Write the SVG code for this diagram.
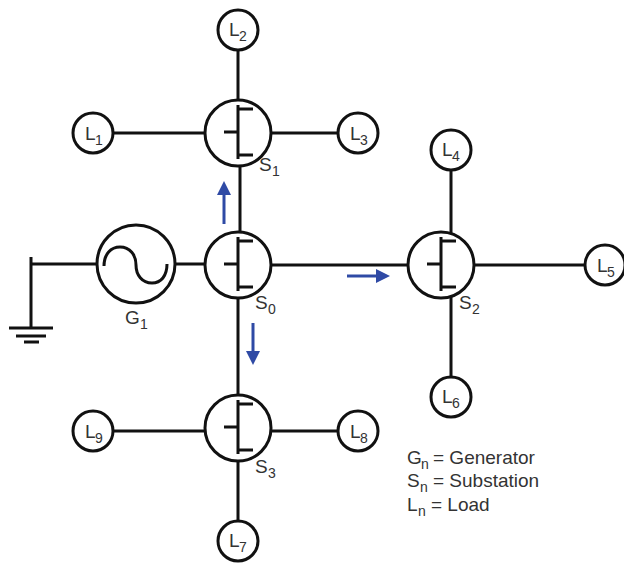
<svg xmlns="http://www.w3.org/2000/svg" xmlns:xlink="http://www.w3.org/1999/xlink" width="624" height="564" viewBox="0 0 624 564">
<style>
.l{stroke:#111;stroke-width:3;fill:none}
.c{stroke:#111;stroke-width:3;fill:#fff}
.a{stroke:#2f4aa5;stroke-width:3;fill:none}
.h{fill:#2f4aa5}
text{font-family:"Liberation Sans",Arial,sans-serif;font-size:19px;fill:#333}
.s{font-size:14px}
</style>
<defs>
<g id="sub">
<circle class="c" r="33"/>
<path class="l" d="M0-28V26M0-24H15M0 22H15M-14-1H0"/>
</g>
<circle id="load" class="c" r="20"/>
</defs>
<rect width="624" height="564" fill="#fff"/>
<g id="connectors">
<path class="l" d="M238 46V100M113 133H205M271 133H338M240 166V232"/>
<path class="l" d="M31 257V328M31 264H97M174 264H205M271 265H408M474 265H586M451 170V235M451 295V378"/>
<path class="l" d="M238 298V395M113 431H205M271 431H338M238 461V521"/>
<path class="l" d="M9 328H53M16 336H46M24 342H39"/>
<path class="a" d="M224 224V192"/><path class="h" d="M224 181L231 195H217Z"/>
<path class="a" d="M253 323V354"/><path class="h" d="M253 365L246 351H260Z"/>
<path class="a" d="M347 276H378"/><path class="h" d="M390 276L376 269V283Z"/>
</g>
<g id="G1"><circle class="c" cx="136" cy="264" r="39"/>
<path class="l" d="M104 266C104 254 111 247 120 247C130 247 136 255 136 265C136 275 142 283 152 283C161 283 167 276 167 264"/>
<text x="125" y="324">G</text><text x="140" y="329" class="s">1</text></g>
<g id="S0"><use xlink:href="#sub" x="238" y="265"/><text x="255" y="309">S</text><text x="268" y="314" class="s">0</text></g>
<g id="S1"><use xlink:href="#sub" x="238" y="133"/><text x="259" y="171">S</text><text x="272" y="176" class="s">1</text></g>
<g id="S2"><use xlink:href="#sub" x="441" y="265"/><text x="459" y="309">S</text><text x="472" y="314" class="s">2</text></g>
<g id="S3"><use xlink:href="#sub" x="238" y="428"/><text x="255" y="473">S</text><text x="268" y="478" class="s">3</text></g>
<g id="L1"><use xlink:href="#load" x="93" y="133"/><text x="85" y="140">L</text><text x="95" y="145" class="s">1</text></g>
<g id="L2"><use xlink:href="#load" x="238" y="30"/><text x="229" y="36">L</text><text x="239" y="41" class="s">2</text></g>
<g id="L3"><use xlink:href="#load" x="358" y="133"/><text x="350" y="140">L</text><text x="360" y="145" class="s">3</text></g>
<g id="L4"><use xlink:href="#load" x="451" y="150"/><text x="442" y="156">L</text><text x="452" y="161" class="s">4</text></g>
<g id="L5"><use xlink:href="#load" x="605" y="265"/><text x="597" y="272">L</text><text x="607" y="277" class="s">5</text></g>
<g id="L6"><use xlink:href="#load" x="451" y="397"/><text x="442" y="403">L</text><text x="452" y="408" class="s">6</text></g>
<g id="L7"><use xlink:href="#load" x="238" y="541"/><text x="229" y="547">L</text><text x="239" y="552" class="s">7</text></g>
<g id="L8"><use xlink:href="#load" x="358" y="431"/><text x="350" y="438">L</text><text x="360" y="443" class="s">8</text></g>
<g id="L9"><use xlink:href="#load" x="93" y="431"/><text x="85" y="438">L</text><text x="95" y="443" class="s">9</text></g>
<g id="legend">
<text x="407" y="464">G</text><text x="421" y="469" class="s">n</text><text x="433" y="464">= Generator</text>
<text x="407" y="487">S</text><text x="420" y="492" class="s">n</text><text x="433" y="487">= Substation</text>
<text x="407" y="511">L</text><text x="418" y="516" class="s">n</text><text x="431" y="511">= Load</text>
</g>
</svg>
